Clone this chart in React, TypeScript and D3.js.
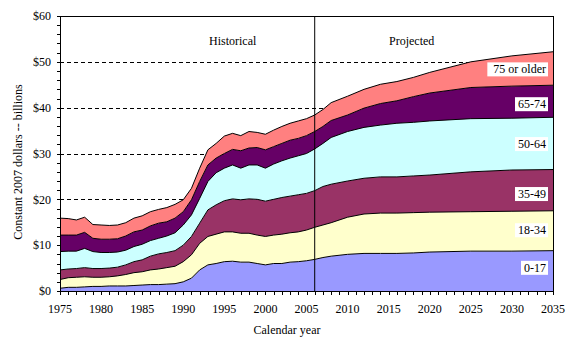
import React, { useEffect, useRef } from 'react';
import * as d3 from 'd3';

// calendar years (annual to 2008, then sparser projections)
const years = [
  1975, 1976, 1977, 1978, 1979, 1980, 1981, 1982, 1983, 1984, 1985, 1986, 1987, 1988, 1989,
  1990, 1991, 1992, 1993, 1994, 1995, 1996, 1997, 1998, 1999, 2000, 2001, 2002, 2003, 2004,
  2005, 2006, 2007, 2008, 2010, 2012, 2014, 2016, 2018, 2020, 2025, 2030, 2035,
];

// constant 2007 dollars, billions
const age0to17 = [0.6, 0.8, 0.8, 0.9, 1.0, 1.0, 1.1, 1.1, 1.1, 1.2, 1.3, 1.4, 1.4, 1.5, 1.6, 2.0, 2.8, 4.6, 5.7, 6.0, 6.4, 6.5, 6.3, 6.3, 6.0, 5.7, 6.0, 6.0, 6.3, 6.4, 6.6, 6.9, 7.3, 7.6, 8.0, 8.2, 8.2, 8.2, 8.3, 8.5, 8.7, 8.7, 8.8];
const age18to34 = [1.9, 2.1, 2.2, 2.2, 2.0, 2.0, 2.0, 2.2, 2.5, 2.8, 2.9, 3.2, 3.4, 3.6, 3.8, 4.4, 5.1, 5.8, 6.2, 6.4, 6.5, 6.4, 6.3, 6.3, 6.2, 6.2, 6.2, 6.4, 6.4, 6.5, 6.7, 7.0, 7.1, 7.3, 8.1, 8.6, 8.8, 8.8, 8.8, 8.7, 8.6, 8.7, 8.7];
const age35to49 = [2.1, 1.9, 1.9, 2.0, 1.9, 1.9, 1.9, 1.9, 2.1, 2.4, 2.6, 3.0, 3.3, 3.3, 3.4, 3.6, 4.0, 4.4, 5.8, 6.4, 6.8, 7.2, 7.3, 7.5, 7.8, 7.7, 7.8, 8.0, 8.0, 8.1, 8.0, 8.0, 8.4, 8.4, 7.9, 7.8, 7.9, 7.9, 8.0, 8.1, 8.7, 9.0, 9.0];
const age50to64 = [4.0, 3.9, 3.8, 4.2, 3.7, 3.5, 3.4, 3.3, 3.2, 3.3, 3.4, 3.4, 3.4, 3.6, 3.9, 4.4, 4.7, 5.4, 6.2, 7.0, 7.1, 7.4, 6.9, 7.4, 7.5, 7.2, 7.7, 8.0, 8.3, 8.5, 8.7, 9.1, 9.4, 10.2, 10.8, 11.1, 11.3, 11.7, 11.7, 11.8, 11.6, 11.3, 11.4];
const age65to74 = [3.6, 3.5, 3.5, 3.5, 2.9, 2.9, 2.9, 2.9, 3.1, 3.2, 3.1, 3.2, 3.3, 3.1, 3.2, 2.9, 3.3, 3.7, 3.6, 3.2, 3.2, 3.4, 3.8, 3.7, 3.8, 4.0, 3.8, 3.8, 3.9, 3.8, 3.9, 3.8, 3.7, 3.7, 3.6, 4.2, 4.7, 4.9, 5.6, 6.1, 6.8, 7.0, 7.0];
const age75plus = [3.7, 3.6, 3.3, 3.3, 3.0, 3.1, 3.0, 3.0, 2.9, 3.0, 3.1, 3.1, 3.0, 3.1, 3.0, 2.6, 2.5, 2.9, 3.3, 3.2, 3.8, 3.5, 3.3, 3.6, 3.3, 3.4, 3.6, 3.7, 3.7, 3.8, 3.7, 3.6, 3.7, 3.9, 4.1, 4.1, 4.2, 4.2, 4.2, 4.5, 5.6, 6.6, 7.3];

const seriesNames = ['0-17', '18-34', '35-49', '50-64', '65-74', '75 or older'];
const seriesValues = [age0to17, age18to34, age35to49, age50to64, age65to74, age75plus];
const seriesColors = ['#9999ff', '#ffffcc', '#993366', '#ccffff', '#660066', '#ff8080'];
// where each band's label box sits, in dollars
const labelAt = [5.1, 13.3, 21.2, 32.1, 40.8, 48.4];

const yTicks = [0, 10, 20, 30, 40, 50, 60];
const xTicks = [1975, 1980, 1985, 1990, 1995, 2000, 2005, 2010, 2015, 2020, 2025, 2030, 2035];
const splitYear = 2006;

const W = 575, H = 362;
const margin = { left: 60, right: 22, top: 16, bottom: 71 };
const FONT = '"Liberation Serif", "Times New Roman", serif';

export default function App() {
  const labelsRef = useRef<SVGGElement>(null);

  const x = d3.scaleLinear().domain([1975, 2035]).range([margin.left, W - margin.right]);
  const y = d3.scaleLinear().domain([0, 60]).range([H - margin.bottom, margin.top]);

  const table = years.map((yr, i) => {
    const row: any = { year: yr };
    seriesNames.forEach((n, j) => { row[n] = seriesValues[j][i]; });
    return row;
  });
  const stacked = d3.stack().keys(seriesNames)(table);

  const area = d3.area<any>()
    .x(d => x(d.data.year))
    .y0(d => y(d[0]))
    .y1(d => y(d[1]));
  const topLine = d3.line<any>()
    .x(d => x(d.data.year))
    .y(d => y(d[1]));

  useEffect(() => {
    // white boxes behind the series labels
    const g = d3.select(labelsRef.current);
    g.selectAll<SVGGElement, unknown>('g.lbl').each(function () {
      const t = d3.select(this).select<SVGTextElement>('text').node()!;
      const b = t.getBBox();
      const pad = b.width > 40 ? 6 : 3;
      d3.select(this).select('rect')
        .attr('x', b.x - pad)
        .attr('y', b.y)
        .attr('width', b.width + pad + 2)
        .attr('height', b.height);
    });
  }, []);

  const bottom = H - margin.bottom;
  const minorY = d3.range(0, 61, 2);
  const minorX = d3.range(1975, 2036, 1);

  return (
    <svg width={W} height={H} style={{ position: 'absolute', left: 0, top: 0, background: '#fff' }}
      fontFamily={FONT} fontSize={12}>
      {/* gridlines */}
      {yTicks.filter(t => t > 0 && t < 60).map(t => (
        <line key={t} x1={margin.left} x2={W - margin.right} y1={Math.round(y(t)) + 0.5} y2={Math.round(y(t)) + 0.5}
          stroke="#000" strokeDasharray="4,3" strokeWidth={1} />
      ))}
      {/* stacked areas */}
      {stacked.map((s, i) => (
        <path key={s.key} d={area(s as any) || ''} fill={seriesColors[i]} />
      ))}
      {stacked.map(s => (
        <path key={'l' + s.key} d={topLine(s as any) || ''} fill="none" stroke="#000" strokeWidth={1} />
      ))}
      {/* historical / projected split */}
      <line x1={x(splitYear)} x2={x(splitYear)} y1={margin.top} y2={bottom} stroke="#000" strokeWidth={1} />
      <text x={209} y={45}>Historical</text>
      <text x={389} y={45}>Projected</text>
      {/* frame */}
      <g shapeRendering="crispEdges">
        <line x1={margin.left - 3} x2={W - margin.right} y1={margin.top} y2={margin.top} stroke="#000" />
        <line x1={W - margin.right} x2={W - margin.right} y1={margin.top} y2={bottom} stroke="#000" />
        <line x1={margin.left} x2={margin.left} y1={margin.top} y2={bottom} stroke="#000" />
        <line x1={margin.left} x2={W - margin.right} y1={bottom} y2={bottom} stroke="#000" />
        {minorY.map(t => (
          <line key={'my' + t} x1={margin.left - 3} x2={margin.left} y1={Math.round(y(t))} y2={Math.round(y(t))} stroke="#000" />
        ))}
        {minorX.map(t => (
          <line key={'mx' + t} x1={Math.round(x(t))} x2={Math.round(x(t))} y1={bottom} y2={bottom + 4} stroke="#000" />
        ))}
      </g>
      {yTicks.map(t => (
        <text key={'yt' + t} x={51} y={y(t)} dy="0.35em" textAnchor="end">${t}</text>
      ))}
      {xTicks.map(t => (
        <text key={'xt' + t} x={x(t)} y={313} textAnchor="middle">{t}</text>
      ))}
      <text x={287} y={334} textAnchor="middle">Calendar year</text>
      <text transform={`translate(22, ${162}) rotate(-90)`} textAnchor="middle">Constant 2007 dollars -- billions</text>
      {/* series labels */}
      <g ref={labelsRef}>
        {seriesNames.map((n, i) => (
          <g className="lbl" key={'lb' + n}>
            <rect fill="#fff" />
            <text x={546} y={y(labelAt[i])} dy="0.35em" textAnchor="end">{n}</text>
          </g>
        ))}
      </g>
    </svg>
  );
}
